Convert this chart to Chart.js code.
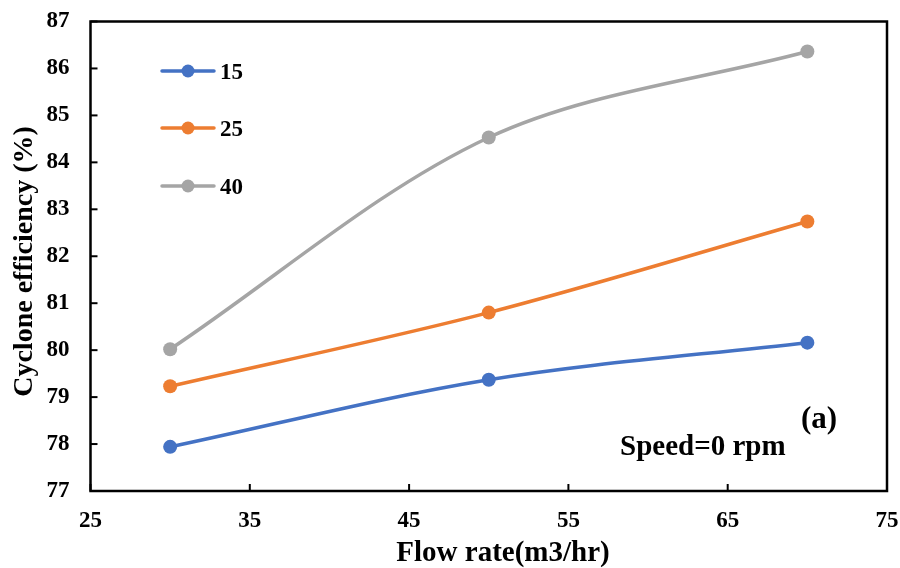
<!DOCTYPE html>
<html>
<head>
<meta charset="utf-8">
<script src="https://cdn.jsdelivr.net/npm/chart.js@4/dist/chart.umd.min.js"></script>
<style>
  html, body { margin: 0; padding: 0; background: #fff; }
  #wrap { width: 900px; height: 568px; position: relative; }
</style>
</head>
<body>
<div id="wrap"><canvas id="c" width="900" height="568"></canvas></div>
<script>
// ---- data ----
const flowRates = [30, 50, 70];
const eff15 = [77.94, 79.37, 80.16];
const eff25 = [79.23, 80.80, 82.74];
const eff40 = [80.02, 84.53, 86.36];
const seriesLabels = ['15', '25', '40'];
const seriesColors = ['#4472C4', '#ED7D31', '#A5A5A5'];
const xTitle = 'Flow rate(m3/hr)';
const yTitle = 'Cyclone efficiency (%)';
const noteSpeed = 'Speed=0 rpm';
const notePanel = '(a)';

const FONT = '"Liberation Serif", "Times New Roman", serif';

function pts(vals) { return flowRates.map((x, i) => ({ x: x, y: vals[i] })); }

const allSeries = [eff15, eff25, eff40];
const datasets = allSeries.map((vals, i) => ({
  label: seriesLabels[i],
  data: pts(vals),
  borderColor: seriesColors[i],
  backgroundColor: seriesColors[i],
  pointBackgroundColor: seriesColors[i],
  pointBorderColor: seriesColors[i],
  pointRadius: 7,
  pointBorderWidth: 0,
  borderWidth: 3.5,
  tension: 0.33,
  fill: false
}));

const decor = {
  id: 'decor',
  afterDraw(chart) {
    const ctx = chart.ctx;
    const a = chart.chartArea;
    const xs = chart.scales.x, ys = chart.scales.y;
    ctx.save();
    // frame
    ctx.strokeStyle = '#000';
    ctx.lineWidth = 2.5;
    ctx.strokeRect(a.left, a.top, a.right - a.left, a.bottom - a.top);
    // inward ticks
    ctx.lineWidth = 2;
    xs.ticks.forEach(t => {
      const px = xs.getPixelForValue(t.value);
      ctx.beginPath(); ctx.moveTo(px, a.bottom); ctx.lineTo(px, a.bottom - 7); ctx.stroke();
    });
    ys.ticks.forEach(t => {
      const py = ys.getPixelForValue(t.value);
      ctx.beginPath(); ctx.moveTo(a.left, py); ctx.lineTo(a.left + 7, py); ctx.stroke();
    });
    // legend
    const rows = [71, 128, 186];
    chart.data.datasets.forEach((ds, i) => {
      const y = rows[i];
      ctx.strokeStyle = ds.borderColor;
      ctx.lineWidth = 3.5;
      ctx.lineCap = 'round';
      ctx.beginPath(); ctx.moveTo(162, y); ctx.lineTo(214, y); ctx.stroke();
      ctx.fillStyle = ds.borderColor;
      ctx.beginPath(); ctx.arc(188, y, 6.5, 0, Math.PI * 2); ctx.fill();
      ctx.fillStyle = '#000';
      ctx.font = 'bold 23px ' + FONT;
      ctx.textAlign = 'left';
      ctx.textBaseline = 'alphabetic';
      ctx.fillText(ds.label, 220, y + 8);
    });
    // axis titles
    ctx.fillStyle = '#000';
    ctx.font = 'bold 29px ' + FONT;
    ctx.textAlign = 'center';
    ctx.textBaseline = 'alphabetic';
    ctx.fillText(xTitle, 503, 561);
    ctx.save();
    ctx.translate(32, 261.5);
    ctx.rotate(-Math.PI / 2);
    ctx.font = 'bold 28px ' + FONT;
    ctx.fillText(yTitle, 0, 0);
    ctx.restore();
    // annotations
    ctx.textAlign = 'left';
    ctx.font = 'bold 29px ' + FONT;
    ctx.fillText(noteSpeed, 620, 455);
    ctx.font = 'bold 31px ' + FONT;
    ctx.fillText(notePanel, 801, 428);
    ctx.restore();
  }
};

new Chart(document.getElementById('c'), {
  type: 'line',
  data: { datasets: datasets },
  plugins: [decor],
  options: {
    responsive: false,
    animation: false,
    devicePixelRatio: 1,
    layout: { padding: { left: 0, right: 13, top: 21.5, bottom: 0 } },
    plugins: { legend: { display: false }, tooltip: { enabled: false } },
    scales: {
      x: {
        type: 'linear', min: 25, max: 75,
        ticks: { stepSize: 10, color: '#000', padding: 16, font: { family: FONT, size: 23, weight: 'bold' }, maxRotation: 0 },
        grid: { display: false, drawTicks: false },
        border: { display: false },
        title: { display: false },
        afterFit(s) { s.height = 77; s.paddingLeft = 0; s.paddingRight = 0; }
      },
      y: {
        min: 77, max: 87,
        ticks: { stepSize: 1, color: '#000', padding: 21, font: { family: FONT, size: 23, weight: 'bold' } },
        grid: { display: false, drawTicks: false },
        border: { display: false },
        title: { display: false },
        afterFit(s) { s.width = 90.5; s.paddingTop = 0; s.paddingBottom = 0; }
      }
    }
  }
});
</script>
</body>
</html>
